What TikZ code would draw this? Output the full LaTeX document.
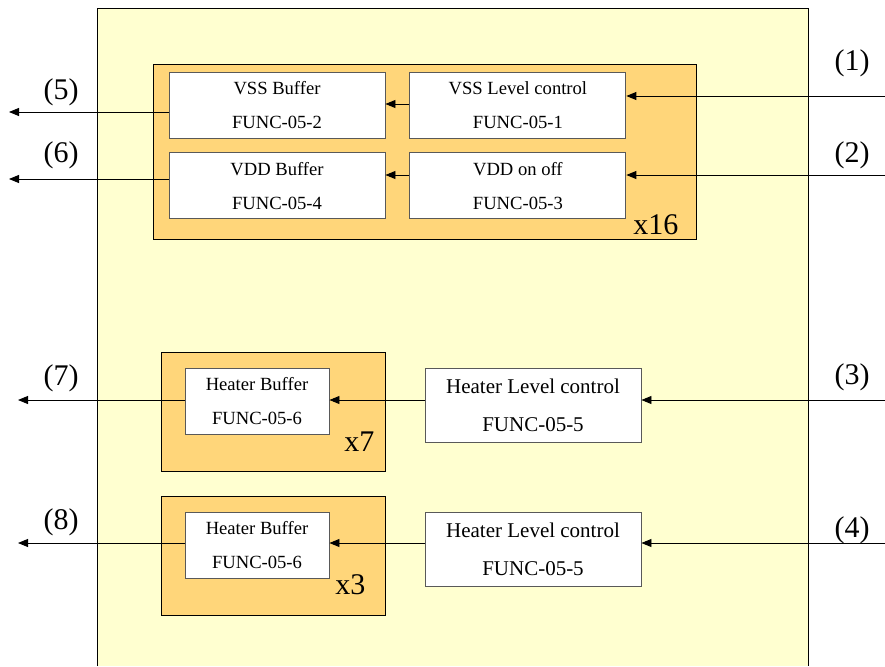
\documentclass[tikz,border=0pt]{standalone}
\usepackage{fontspec}
\setmainfont{Liberation Serif}
\usepackage{tikz}
\usetikzlibrary{arrows.meta, positioning, calc}
\usepackage{xcolor}

\definecolor{chipyellow}{HTML}{FFFFD0}
\definecolor{bankorange}{HTML}{FFD67A}

\begin{document}
\begin{tikzpicture}[
    x=1pt, y=-1pt,
    func/.style={rectangle, draw=black!65, fill=white, line width=0.9pt, inner sep=0pt, align=center,
                 minimum width=216pt, minimum height=66pt, font=\fontsize{18.6}{34}\selectfont},
    funcbig/.style={func, minimum height=74pt, font=\fontsize{21}{38}\selectfont},
    bank/.style={rectangle, draw, fill=bankorange, line width=0.9pt, inner sep=0pt},
    pin/.style={font=\fontsize{30}{36}\selectfont},
    arrow/.style={-{Triangle[length=10pt, width=8pt]}, line width=0.9pt}
]
    \useasboundingbox (0,0) rectangle (885,666);

    % chip outline, open at the bottom
    \fill[chipyellow] (97,666) rectangle (808,8);
    \draw[line width=0.9pt] (97,666) -- (97,8) -- (808,8) -- (808,666);

    % supply bank
    \node[bank, minimum width=543pt, minimum height=175pt] (supply) at (425,151.5) {};
    \node[func] (vssbuf) at (277,105) {VSS Buffer\\FUNC-05-2};
    \node[func, right=24pt of vssbuf] (vsslc) {VSS Level control\\FUNC-05-1};
    \node[func, below=14pt of vssbuf] (vddbuf) {VDD Buffer\\FUNC-05-4};
    \node[func, below=14pt of vsslc] (vddon) {VDD on off\\FUNC-05-3};
    \node[pin, anchor=base east] (n16) at (682,234) {x16};

    % heater banks
    \node[bank, minimum width=224pt, minimum height=119pt] (heatA) at (273,411.5) {};
    \node[func, minimum width=144pt] (hbufA) at (257,401) {Heater Buffer\\FUNC-05-6};
    \node[funcbig] (hlcA) at (533,405) {Heater Level control\\FUNC-05-5};
    \node[pin, anchor=base east] (n7) at (378,451) {x7};

    \node[bank, minimum width=224pt, minimum height=119pt] (heatB) at (273,555.5) {};
    \node[func, minimum width=144pt] (hbufB) at (257,545) {Heater Buffer\\FUNC-05-6};
    \node[funcbig] (hlcB) at (533,549) {Heater Level control\\FUNC-05-5};
    \node[pin, anchor=base east] (n3) at (369,594) {x3};

    % pins
    \coordinate (in1) at (885,96);
    \coordinate (in2) at (885,175);
    \coordinate (in3) at (885,400);
    \coordinate (in4) at (885,543);
    \coordinate (out5) at (9,112);
    \coordinate (out6) at (9,179);
    \coordinate (out7) at (18,400);
    \coordinate (out8) at (18,543);

    \node[pin] (p1) at (852,63) {(1)};
    \node[pin] (p2) at (852,155) {(2)};
    \node[pin] (p3) at (852,377) {(3)};
    \node[pin] (p4) at (852,530) {(4)};
    \node[pin] (p5) at (61,92) {(5)};
    \node[pin] (p6) at (61,155) {(6)};
    \node[pin] (p7) at (61,378) {(7)};
    \node[pin] (p8) at (61,522) {(8)};

    % signal flow
    \draw[arrow] (in1) -- (vsslc.east |- in1);
    \draw[arrow] (vsslc.west |- 0,104) -- (vssbuf.east |- 0,104);
    \draw[arrow] (vssbuf.west |- out5) -- (out5);

    \draw[arrow] (in2) -- (vddon.east |- in2);
    \draw[arrow] (vddon.west |- in2) -- (vddbuf.east |- in2);
    \draw[arrow] (vddbuf.west |- out6) -- (out6);

    \draw[arrow] (in3) -- (hlcA.east |- in3);
    \draw[arrow] (hlcA.west |- in3) -- (hbufA.east |- in3);
    \draw[arrow] (hbufA.west |- in3) -- (out7);

    \draw[arrow] (in4) -- (hlcB.east |- in4);
    \draw[arrow] (hlcB.west |- in4) -- (hbufB.east |- in4);
    \draw[arrow] (hbufB.west |- in4) -- (out8);
\end{tikzpicture}
\end{document}
